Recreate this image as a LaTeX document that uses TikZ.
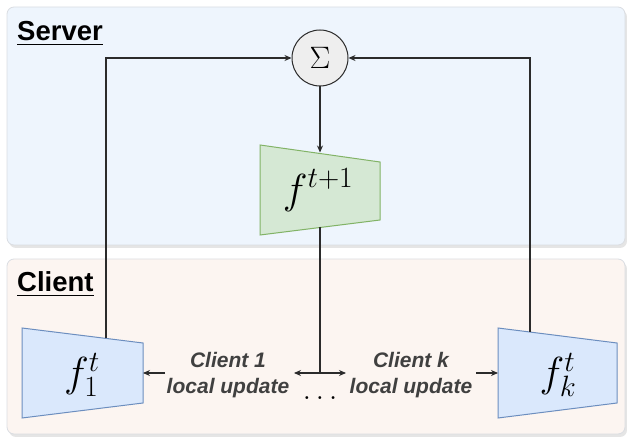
\RequirePackage{fix-cm}
\documentclass[tikz,border=0pt]{standalone}
\usepackage{amsmath}
\usepackage{fontspec}
\setsansfont{Liberation Sans}
\usetikzlibrary{arrows.meta}
\definecolor{srvfill}{HTML}{EEF5FD}
\definecolor{clifill}{HTML}{FCF5F1}
\definecolor{panelline}{HTML}{DADDE2}
\definecolor{greenfill}{HTML}{D5E8D4}
\definecolor{greenline}{HTML}{82B366}
\definecolor{bluefill}{HTML}{DAE8FC}
\definecolor{blueline}{HTML}{6C8EBF}
\definecolor{sumfill}{HTML}{EEEEEE}
\definecolor{linec}{HTML}{2B2B2B}
\definecolor{txtc}{HTML}{404040}
\tikzset{
  panel/.style={rounded corners=7pt, draw=panelline, line width=0.8pt},
  shadowbox/.style={rounded corners=7pt, fill=black!10},
  conn/.style={draw=linec, line width=1.1pt},
  arr/.style={conn, -{Stealth[length=7pt,width=6pt]}},
  title/.style={font=\sffamily\bfseries\fontsize{27.5}{32}\selectfont, text=black, anchor=base west, inner sep=0pt},
  note/.style={font=\sffamily\bfseries\itshape\fontsize{21}{26}\selectfont, text=txtc, align=center, inner sep=0pt},
  bigmath/.style={font=\fontsize{42}{50}\selectfont, inner sep=0pt},
}
\begin{document}
\begin{tikzpicture}[x=1pt,y=-1pt]
\useasboundingbox (0,0) rectangle (627,438);
% panels
\fill[shadowbox] (9,10) rectangle (627,248);
\filldraw[panel, fill=srvfill] (7,7) rectangle (625,245);
\fill[shadowbox] (9,262) rectangle (627,437);
\filldraw[panel, fill=clifill] (7,259) rectangle (625,434);
\node[title] (srvlbl) at (17,41) {\underline{Server}};
\node[title] (clilbl) at (17,292) {\underline{Client}};
% sum node
\node[circle, draw=linec, line width=1pt, fill=sumfill, minimum size=56pt, inner sep=0pt,
      font=\fontsize{31}{34}\selectfont] (sum) at (320,58) {$\Sigma$};
% green trapezoid
\filldraw[fill=greenfill, draw=greenline, line width=1pt] (260,145) -- (380,162) -- (380,220) -- (260,235) -- cycle;
\node[bigmath] (fnext) at (318,190) {$f^{t+1}$};
% blue trapezoids
\filldraw[fill=bluefill, draw=blueline, line width=1pt] (22,328) -- (143,343) -- (143,403) -- (22,418) -- cycle;
\node[bigmath] (f1) at (82,375) {$f_1^t$};
\filldraw[fill=bluefill, draw=blueline, line width=1pt] (498,328) -- (617,343) -- (617,403) -- (498,418) -- cycle;
\node[bigmath] (fk) at (558,375) {$f_k^t$};
% connection points
\coordinate (f1top) at (106,338.4);
\coordinate (fktop) at (530,332);
\coordinate (gtop) at (320,152.5);
\coordinate (gbot) at (320,227.5);
\coordinate (split) at (320,373);
\coordinate (f1right) at (143,373);
\coordinate (fkleft) at (498,373);
% notes
\node[note] (n1) at (228,375) {Client 1\\local update};
\node[note] (nk) at (411,375) {Client k\\local update};
\node[font=\fontsize{30}{34}\selectfont, inner sep=0pt, anchor=base] (dots) at (320,400) {$\ldots$};
\coordinate (n1l) at (165,373);
\coordinate (nkr) at (476,373);
\coordinate (splitl) at (294,373);
\coordinate (splitr) at (346,373);
% connectors
\draw[arr] (f1top) |- (sum.west);
\draw[arr] (fktop) |- (sum.east);
\draw[arr] (sum.south) -- (gtop);
\draw[conn] (gbot) -- (split);
\draw[arr] (split) -- (splitl);
\draw[arr] (split) -- (splitr);
\draw[arr] (n1l) -- (f1right);
\draw[arr] (nkr) -- (fkleft);
\end{tikzpicture}
\end{document}
